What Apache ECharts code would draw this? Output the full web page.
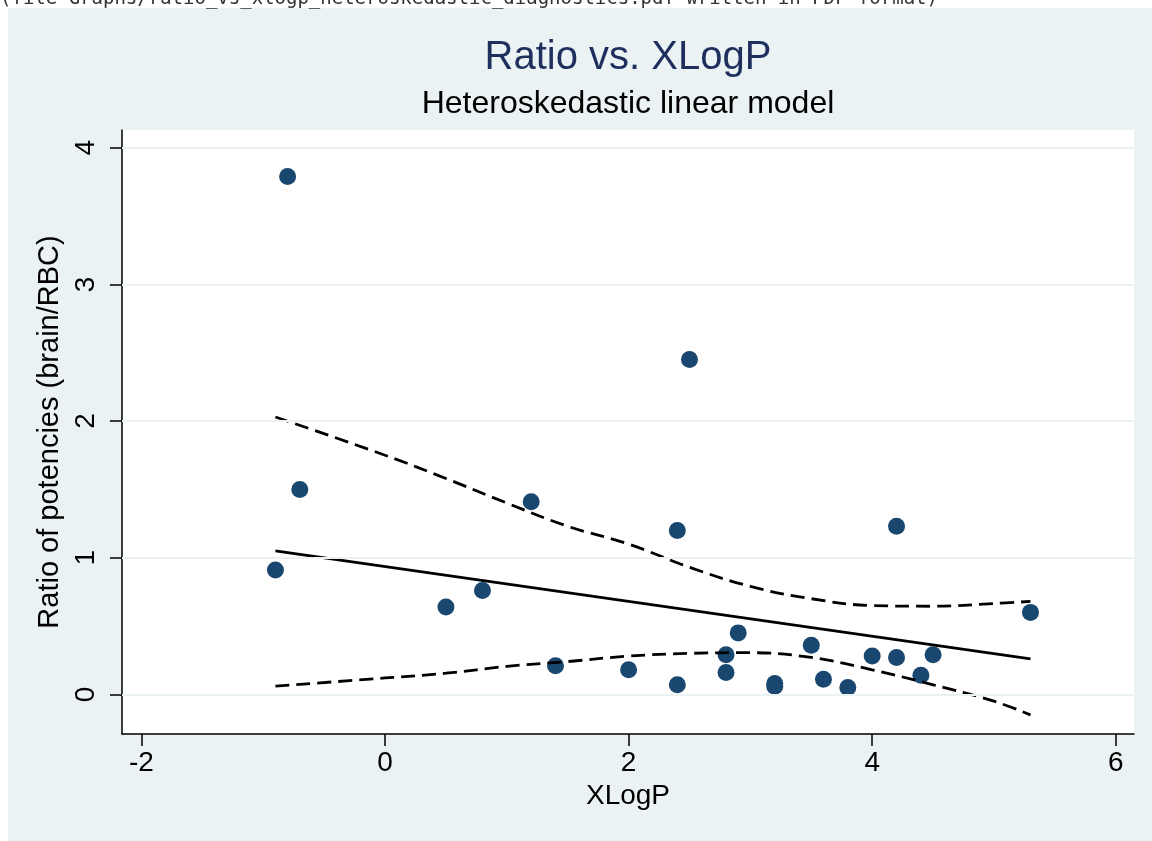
<!DOCTYPE html>
<html>
<head>
<meta charset="utf-8">
<title>Ratio vs. XLogP</title>
<script src="https://cdn.jsdelivr.net/npm/echarts@6.0.0/dist/echarts.min.js"></script>
<style>
  html, body { margin: 0; padding: 0; background: #fff; }
  #chart { width: 1152px; height: 841px; }
</style>
</head>
<body>
<div id="chart"></div>
<script>
// observed compounds
var xlogp = [-0.8, -0.9, -0.7, 0.5, 0.8, 1.2, 1.4, 2.0, 2.4, 2.4, 2.5, 2.8, 2.8, 2.9, 3.2, 3.2, 3.5, 3.6, 3.8, 4.0, 4.2, 4.2, 4.4, 4.5, 5.3];
var ratio = [3.79, 0.91, 1.50, 0.64, 0.76, 1.41, 0.21, 0.18, 1.20, 0.07, 2.45, 0.29, 0.16, 0.45, 0.08, 0.06, 0.36, 0.11, 0.05, 0.28, 1.23, 0.27, 0.14, 0.29, 0.60];

// fitted line (ends)
var fitX = [-0.9, 5.3];
var fitY = [1.05, 0.26];

// confidence band
var bandX = [-0.9, 0, 0.5, 1.0, 1.5, 2.0, 2.5, 3.0, 3.5, 4.0, 4.5, 5.0, 5.3];
var upperY = [2.03, 1.75, 1.58, 1.40, 1.23, 1.10, 0.93, 0.79, 0.70, 0.65, 0.645, 0.665, 0.68];
var lowerY = [0.06, 0.12, 0.155, 0.205, 0.24, 0.28, 0.30, 0.305, 0.27, 0.18, 0.07, -0.05, -0.15];

// ticks
var xTicks = [-2, 0, 2, 4, 6];
var yTicks = [0, 1, 2, 3, 4];

var FONT = '"Liberation Sans", Arial, sans-serif';

function pairs(xs, ys) {
    var out = [];
    for (var i = 0; i < xs.length; i++) out.push([xs[i], ys[i]]);
    return out;
}

var chart = echarts.init(document.getElementById('chart'), null, { renderer: 'canvas' });

var option = {
    animation: false,
    backgroundColor: '#EAF2F3',
    graphic: [
        // white strip above/left of the Stata background
        { type: 'rect', z: -10, shape: { x: 0, y: 0, width: 1152, height: 8 }, style: { fill: '#fff' } },
        { type: 'rect', z: -10, shape: { x: 0, y: 0, width: 8, height: 841 }, style: { fill: '#fff' } },
        {
            type: 'text', z: 10,
            style: {
                text: '(file Graphs/ratio_vs_xlogp_heteroskedastic_diagnostics.pdf written in PDF format)',
                x: 0, y: 9, font: '19px "DejaVu Sans Mono", monospace', fill: '#333',
                align: 'left', verticalAlign: 'bottom'
            }
        },
        {
            type: 'text', z: 10,
            style: {
                text: 'Ratio vs. XLogP', x: 628, y: 58,
                font: '40px ' + FONT, fill: '#1E2F5E', align: 'center', verticalAlign: 'middle'
            }
        },
        {
            type: 'text', z: 10,
            style: {
                text: 'Heteroskedastic linear model', x: 628, y: 104,
                font: '32px ' + FONT, fill: '#000', align: 'center', verticalAlign: 'middle'
            }
        }
    ],
    grid: {
        left: 122, right: 18, top: 130, bottom: 107,
        show: true, backgroundColor: '#fff', borderWidth: 0
    },
    xAxis: {
        type: 'value', min: -2.16, max: 6.15,
        name: 'XLogP', nameLocation: 'middle', nameGap: 47,
        nameTextStyle: { fontFamily: FONT, fontSize: 28, color: '#000' },
        axisLine: { show: true, onZero: false, lineStyle: { color: '#000', width: 1.5 } },
        axisTick: { show: true, length: 12, customValues: xTicks, lineStyle: { color: '#000', width: 1.5 } },
        axisLabel: { customValues: xTicks, margin: 15, fontFamily: FONT, fontSize: 28, color: '#000' },
        splitLine: { show: false }
    },
    yAxis: {
        type: 'value', min: -0.29, max: 4.13,
        name: 'Ratio of potencies (brain/RBC)', nameLocation: 'middle', nameGap: 43,
        nameTextStyle: { fontFamily: FONT, fontSize: 29, color: '#000' },
        axisLine: { show: true, onZero: false, lineStyle: { color: '#000', width: 1.5 } },
        axisTick: { show: true, length: 12, customValues: yTicks, lineStyle: { color: '#000', width: 1.5 } },
        axisLabel: { customValues: yTicks, rotate: 90, margin: 22, fontFamily: FONT, fontSize: 28, color: '#000' },
        splitLine: { show: false }
    },
    series: [
        {
            // horizontal grid lines
            type: 'line', data: [], z: 1, silent: true,
            markLine: {
                silent: true, symbol: ['none', 'none'], label: { show: false },
                lineStyle: { type: 'solid', color: '#EAF2F3', width: 2 },
                data: yTicks.map(function (v) { return { yAxis: v }; })
            }
        },
        {
            type: 'scatter', z: 3,
            symbol: 'circle', symbolSize: 17,
            itemStyle: { color: '#1A476F', opacity: 1 },
            data: pairs(xlogp, ratio)
        },
        {
            type: 'line', z: 4, showSymbol: false,
            lineStyle: { color: '#000', width: 2.8 },
            data: pairs(fitX, fitY)
        },
        {
            type: 'line', z: 4, showSymbol: false, smooth: 0.4,
            lineStyle: { color: '#000', width: 2.8, type: [14, 7] },
            data: pairs(bandX, upperY)
        },
        {
            type: 'line', z: 4, showSymbol: false, smooth: 0.4,
            lineStyle: { color: '#000', width: 2.8, type: [14, 7] },
            data: pairs(bandX, lowerY)
        }
    ]
};

chart.setOption(option);
</script>
</body>
</html>
